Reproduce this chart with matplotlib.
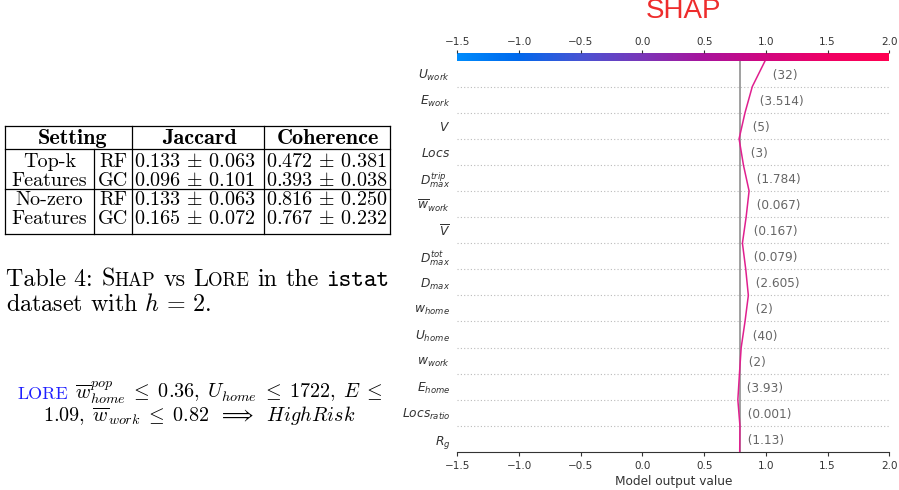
import numpy as np
import matplotlib
matplotlib.use('Agg')
import matplotlib.pyplot as plt
from matplotlib.colors import LinearSegmentedColormap, Normalize
from matplotlib.cm import ScalarMappable

# ---- left panel: table 4 values
setting_rows = ['Top-k', 'Features', 'No-zero', 'Features']
model_rows = ['RF', 'GC', 'RF', 'GC']
jaccard_mean = [0.133, 0.096, 0.133, 0.165]
jaccard_std = [0.063, 0.101, 0.063, 0.072]
coherence_mean = [0.472, 0.393, 0.816, 0.767]
coherence_std = [0.381, 0.038, 0.250, 0.232]

# ---- right panel: SHAP decision plot (top -> bottom as displayed)
feature_names = [r'$U_{work}$', r'$E_{work}$', r'$V$', r'$Locs$', r'$D_{max}^{trip}$',
                 r'$\overline{w}_{work}$', r'$\overline{V}$', r'$D_{max}^{tot}$', r'$D_{max}$',
                 r'$w_{home}$', r'$U_{home}$', r'$w_{work}$', r'$E_{home}$',
                 r'$Locs_{ratio}$', r'$R_g$']
feature_values = [32, 3.514, 5, 3, 1.784, 0.067, 0.167, 0.079, 2.605, 2, 40, 2, 3.93, 0.001, 1.13]
shap_values = [0.105, 0.059, 0.048, -0.035, -0.046, 0.024, 0.030, -0.027, -0.021,
               0.027, 0.031, 0.014, 0.013, -0.017, 0.002]
base_value = 0.788
x_range = (-1.5, 2.0)

# shap-like red/blue colormap
red_blue = LinearSegmentedColormap.from_list('red_blue', [
    (0.0, '#008bfb'), (0.14, '#0068ec'), (0.29, '#4a52d2'), (0.43, '#7a35b8'),
    (0.57, '#a8139c'), (0.71, '#cf0680'), (0.86, '#ef0064'), (1.0, '#ff0051')])

fig = plt.figure(figsize=(8.99, 4.9), dpi=100)

# background axes in pixel units for the "paper" part
bg = fig.add_axes([0, 0, 1, 1])
bg.set_xlim(0, 899)
bg.set_ylim(490, 0)
bg.axis('off')

# table grid
col_x = [5, 94, 131.5, 263.5, 390]
y_top, y_head, y_mid, y_bot = 126, 149.3, 188.7, 234.3
for y in [y_top, y_head, y_mid, y_bot]:
    bg.plot([col_x[0], col_x[-1]], [y, y], color='black', lw=0.9)
for x in [col_x[0], col_x[2], col_x[3], col_x[4]]:
    bg.plot([x, x], [y_top, y_bot], color='black', lw=0.9)
bg.plot([col_x[1], col_x[1]], [y_head, y_bot], color='black', lw=0.9)

tsize = 14.5
hdr = dict(fontfamily='cmb10', fontsize=16, va='baseline', ha='center')
bg.text(73, 143.5, 'Setting', **hdr)
bg.text(199, 143.5, 'Jaccard', **hdr)
bg.text(328, 143.5, 'Coherence', **hdr)

row_base = [167.3, 186, 205.3, 224]
cm = dict(fontfamily='cmr10', fontsize=tsize, va='baseline', math_fontfamily='cm')
for i in range(4):
    bg.text(49.5, row_base[i], setting_rows[i], ha='center', **cm)
    bg.text(113, row_base[i], model_rows[i], ha='center', **cm)
    bg.text(134.5, row_base[i], r'$%.3f\,\pm\,%.3f$' % (jaccard_mean[i], jaccard_std[i]), ha='left', **cm)
    bg.text(266.5, row_base[i], r'$%.3f\,\pm\,%.3f$' % (coherence_mean[i], coherence_std[i]), ha='left', **cm)


def draw_runs(runs, x, y, center=False):
    rend = fig.canvas.get_renderer()
    placed = []
    cur = x
    for s, kw, gap in runs:
        t = bg.text(cur, y, s, va='baseline', ha='left', **kw)
        cur += t.get_window_extent(renderer=rend).width + gap
        placed.append(t)
    if center:
        shift = (cur - x) / 2
        for t in placed:
            t.set_x(t.get_position()[0] - shift)


# caption
csize = 17.3
sc = csize * 0.78
sp = 0.333 * csize * 100 / 72
rm = dict(fontfamily='cmr10', fontsize=csize, math_fontfamily='cm')
rs = dict(fontfamily='cmr10', fontsize=sc)
draw_runs([('Table 4:', rm, sp), ('S', rm, 0), ('HAP', rs, sp), ('vs', rm, sp),
           ('L', rm, 0), ('ORE', rs, sp), ('in', rm, sp), ('the', rm, sp),
           ('istat', dict(fontfamily='cmtt10', fontsize=csize), 0)], 6.5, 285.5)
draw_runs([('dataset with $h\\,=\\,2$.', rm, 0)], 6.5, 310.5)

# LORE rule
lsize = 14.5
draw_runs([('LORE', dict(fontfamily='cmr10', fontsize=13, color='#1f1fff'), 0.333 * lsize * 100 / 72),
           (r'$\overline{w}^{pop}_{home}\;\leq\;0.36,\;U_{home}\;\leq\;1722,\;E\;\leq$',
            dict(fontsize=lsize, math_fontfamily='cm'), 0)], 200, 399, center=True)
bg.text(199, 421, r'$1.09,\;\overline{w}_{work}\;\leq\;0.82\;\;\Longrightarrow\;\;HighRisk$',
        fontsize=lsize, math_fontfamily='cm', ha='center', va='baseline')

# ---- SHAP decision plot
n = len(feature_names)
names_b = feature_names[::-1]
vals_b = feature_values[::-1]
shap_b = np.array(shap_values[::-1])
cum = base_value + np.concatenate([[0], np.cumsum(shap_b)])
y_pos = np.arange(n + 1)

ax = fig.add_axes([457.3 / 899, 38 / 490, 432 / 899, 391.5 / 490])
ax.set_xlim(*x_range)
ax.set_ylim(0, n)
for i in range(1, n):
    ax.axhline(i, color='#bbbbbb', lw=0.8, dashes=(1, 2), zorder=0)
ax.axvline(base_value, color='#999999', lw=1.3, zorder=1)
norm = Normalize(*x_range)
ax.plot(cum, y_pos, color='#e0208f', lw=1.1, zorder=3)

for i in range(n):
    v = vals_b[i]
    lab = '({})'.format(f'{v:,.3f}'.rstrip('0').rstrip('.'))
    ax.text(max(cum[i], cum[i + 1]), i + 0.5, '  ' + lab, fontsize=8.7,
            ha='left', va='center_baseline', color='#666666')

ax.set_yticks(np.arange(n) + 0.5)
ax.set_yticklabels(names_b)
ax.tick_params(axis='y', length=0, pad=5, labelsize=8.8, labelcolor='#333333')
ax.set_xticks(np.arange(-1.5, 2.01, 0.5))
ax.tick_params(axis='x', labelsize=7.5, color='#333333', labelcolor='#333333', length=3.2)
for s in ['top', 'left', 'right']:
    ax.spines[s].set_visible(False)
ax.spines['bottom'].set_color('#333333')
ax.set_xlabel('Model output value', fontsize=8.7, color='#333333', labelpad=3)

cax = fig.add_axes([457.3 / 899, 428.5 / 490, 432 / 899, 8.5 / 490])
cb = fig.colorbar(ScalarMappable(norm=norm, cmap=red_blue), cax=cax, orientation='horizontal')
cb.outline.set_visible(False)
cax.xaxis.set_ticks_position('top')
cax.set_xticks(np.arange(-1.5, 2.01, 0.5))
cax.tick_params(labelsize=7.5, color='#333333', labelcolor='#333333', length=2.5, pad=2)

fig.text(684 / 899, 1 - 11.5 / 490, 'SHAP', color='#ee2c2c', fontsize=20,
         fontfamily='Liberation Sans', ha='center', va='center')

fig.savefig('out.png', dpi=100)
